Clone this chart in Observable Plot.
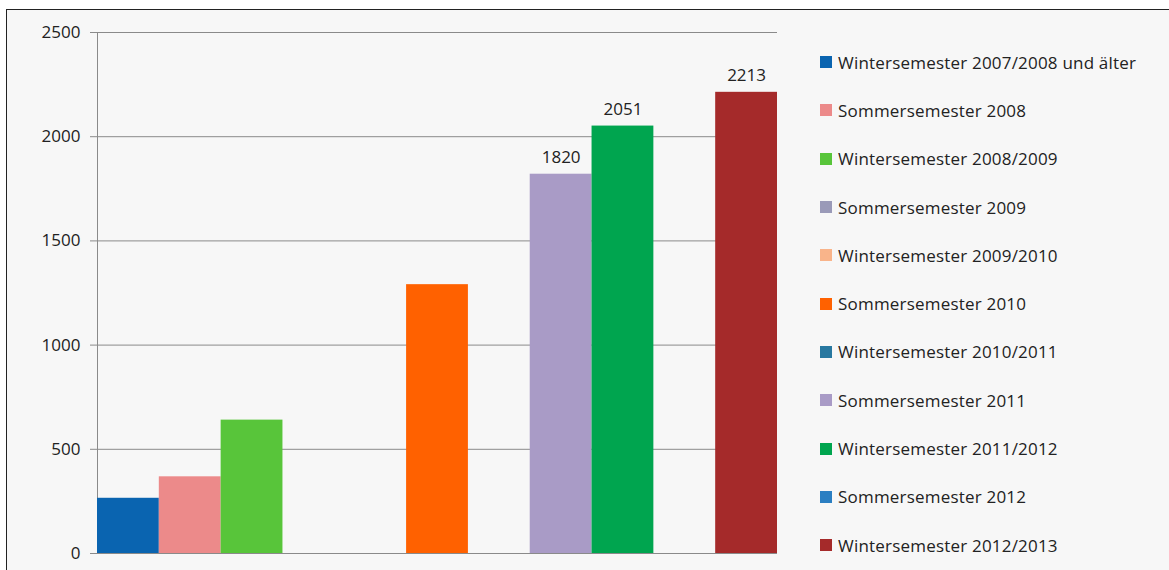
<!DOCTYPE html>
<html><head><meta charset="utf-8">
<script src="https://cdn.jsdelivr.net/npm/d3@7"></script>
<script src="https://cdn.jsdelivr.net/npm/@observablehq/plot@0.6"></script>
<style>
html,body{margin:0;padding:0;background:#fff;}
#wrap{position:relative;width:1169px;height:570px;overflow:hidden;font-family:"Open Sans",sans-serif;}
#frame{position:absolute;left:6px;top:9px;width:1180px;height:620px;border:1.5px solid #222;background:#f7f7f7;box-sizing:border-box;}
#chart{position:absolute;left:0;top:0;}
#legend{position:absolute;left:820px;top:38px;}
.row{height:48.3px;display:flex;align-items:center;font-size:17px;letter-spacing:0.2px;color:#222;white-space:nowrap;}
.sw{width:12px;height:12px;margin-right:6px;flex:none;}
</style></head>
<body><div id="wrap"><div id="frame"></div><div id="chart"></div><div id="legend"></div></div>
<script>
const semesters = [
  "Wintersemester 2007/2008 und älter",
  "Sommersemester 2008",
  "Wintersemester 2008/2009",
  "Sommersemester 2009",
  "Wintersemester 2009/2010",
  "Sommersemester 2010",
  "Wintersemester 2010/2011",
  "Sommersemester 2011",
  "Wintersemester 2011/2012",
  "Sommersemester 2012",
  "Wintersemester 2012/2013"
];
const values = [265, 368, 640, null, null, 1290, null, 1820, 2051, null, 2213];
const colors = ["#0a64b0","#ec8a8a","#58c53a","#9a9ab8","#f9b48a","#ff6100","#2878a0","#a99bc6","#00a54f","#2b7fc2","#a52a2a"];
const labelled = ["Sommersemester 2011","Wintersemester 2011/2012","Wintersemester 2012/2013"];
const yTicks = [0, 500, 1000, 1500, 2000, 2500];

const data = semesters.map((s, i) => ({sem: s, value: values[i]}));

const chart = Plot.plot({
  width: 1169, height: 570,
  marginLeft: 97, marginRight: 392, marginTop: 32, marginBottom: 17,
  style: {background: "transparent", fontFamily: "'Open Sans', sans-serif", fontSize: "17px", color: "#222", overflow: "visible"},
  x: {type: "band", domain: semesters, padding: 0, round: false, axis: null},
  y: {domain: [0, 2500], axis: null, label: null},
  color: {domain: semesters, range: colors},
  marks: [
    Plot.gridY(yTicks, {stroke: "#8a8a8a", strokeOpacity: 1, strokeWidth: 1}),
    Plot.frame({anchor: "left", stroke: "#8a8a8a"}),
    Plot.axisY({ticks: yTicks, tickSize: 7, tickPadding: 10, tickFormat: d3.format("d"), label: null, stroke: "#8a8a8a", fill: "#222", fontSize: 17}),
    Plot.barY(data.filter(d => d.value != null), {x: "sem", y: "value", fill: "sem"}),
    Plot.text(data.filter(d => labelled.includes(d.sem)), {x: "sem", y: "value", text: d => String(d.value), lineAnchor: "bottom", dy: -11, fill: "#222", fontSize: 17})
  ]
});
document.getElementById("chart").appendChild(chart);

const legend = d3.select("#legend");
semesters.forEach((s, i) => {
  const row = legend.append("div").attr("class", "row");
  row.append("div").attr("class", "sw").style("background", colors[i]);
  row.append("span").text(s);
});
</script></body></html>
